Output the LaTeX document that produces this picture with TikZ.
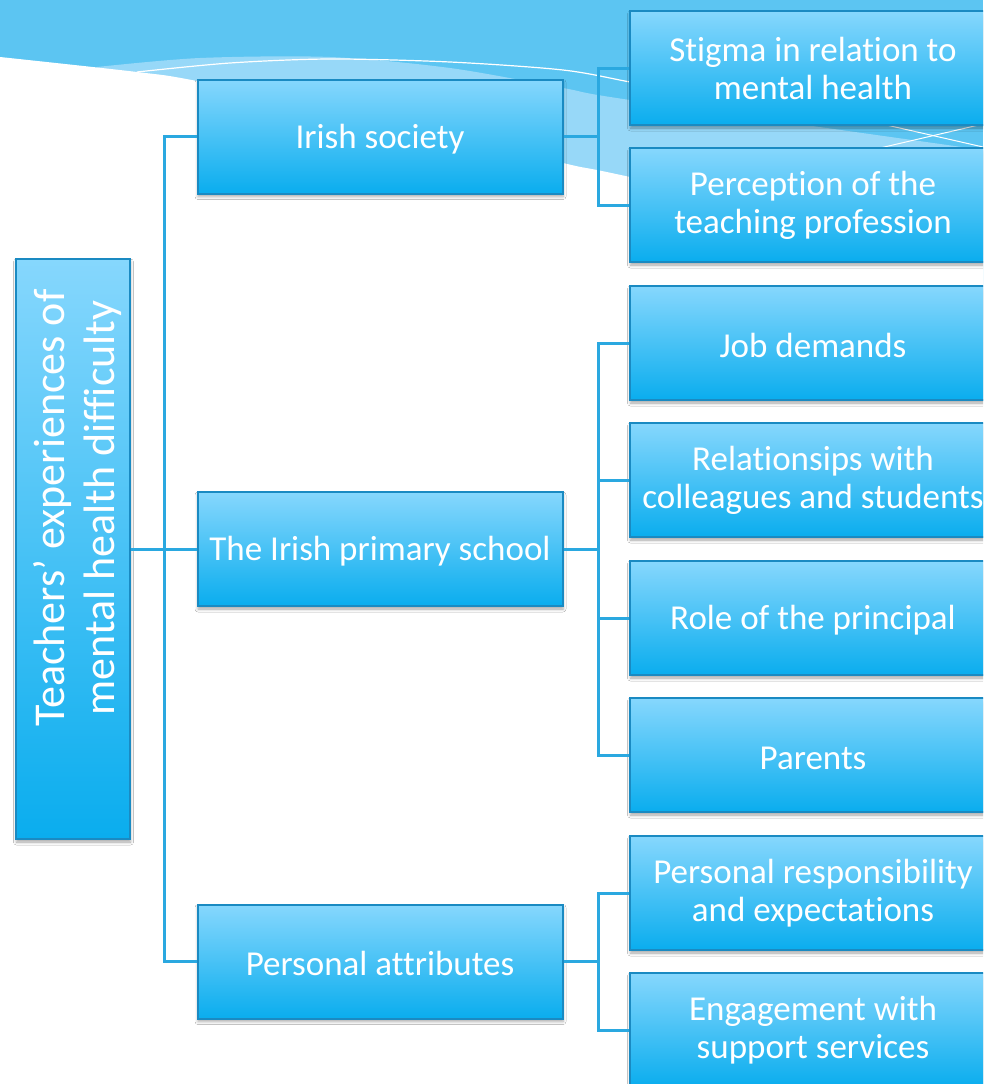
\documentclass[tikz,border=0pt]{standalone}
\usepackage{fontspec}
\setmainfont{Carlito}[RawFeature={-liga;-clig;-dlig;-calt}]
\usetikzlibrary{shadows.blur}

\definecolor{bandblue}{HTML}{5CC5F2}
\definecolor{paleblue}{HTML}{97D8F8}
\definecolor{boxtop}{HTML}{86D7FD}
\definecolor{boxbottom}{HTML}{0AADEE}
\definecolor{boxedge}{HTML}{1A8AC2}
\definecolor{linkblue}{HTML}{2AA8E0}

\tikzset{
  topic/.style={draw=boxedge, line width=2pt, top color=boxtop, bottom color=boxbottom,
    minimum width=366pt, minimum height=114pt, inner sep=0pt,
    text=white, align=center, font=\fontsize{35}{38}\selectfont,
    execute at begin node={\rule{0pt}{29pt}},
    blur shadow={shadow xshift=0.5pt, shadow yshift=-3pt, shadow opacity=35, shadow blur radius=3pt}},
  rootbox/.style={topic, minimum width=114pt, minimum height=580pt, execute at begin node={}},
  rootlabel/.style={rotate=90, text=white, align=center, inner sep=0pt,
    font=\fontsize{44}{50}\selectfont},
  link/.style={draw=linkblue, line width=3pt},
}

\begin{document}
\begin{tikzpicture}[x=1pt, y=-1pt]
  \useasboundingbox (0,0) rectangle (983,1084);
  \clip (0,0) rectangle (983,1084);

  % header wave
  \fill[bandblue] (0,0) rectangle (983,320);
  \fill[paleblue] plot[smooth] coordinates {(97,67) (200,58) (330,57) (450,68) (563,88) (630,100) (983,150)}
    -- (983,320) -- (97,320) -- cycle;
  \fill[white] plot[smooth] coordinates {(0,57) (137,72) (197,81) (400,122) (563,163) (630,177) (983,255)}
    -- (983,1084) -- (0,1084) -- cycle;
  \draw[white, line width=1.2pt] plot[smooth] coordinates {(137,72) (230,63) (330,59) (450,62) (563,70) (630,82) (700,95)};
  \draw[white, line width=1pt] (790,103) -- (983,147);
  \draw[white, line width=1pt] (790,169) -- (983,124);

  % root
  \node[rootbox] (root) at (73,549) {};
  \node[rootlabel] (roottext) at (78,508) {Teachers’ experiences of\\mental health difficulty};

  % first level
  \node[topic, minimum width=365pt] (soc) at (380,136.5) {Irish society};
  \node[topic, minimum width=365pt] (school) at (380,549) {The Irish primary school};
  \node[topic, minimum width=365pt] (pers) at (380,961.5) {Personal attributes};

  % second level
  \node[topic] (stigma) at (813,68) {Stigma in relation to\\mental health};
  \node[topic] (percep) at (813,205) {Perception of the\\teaching profession};
  \node[topic] (job) at (813,343) {Job demands};
  \node[topic] (rel) at (813,480) {Relationsips with\\colleagues and students};
  \node[topic] (princ) at (813,618) {Role of the principal};
  \node[topic] (parents) at (813,755) {Parents};
  \node[topic] (resp) at (813,893) {Personal responsibility\\and expectations};
  \node[topic] (engage) at (813,1030) {Engagement with\\support services};

  % connectors
  \foreach \c in {soc, school, pers}
    \draw[link] (root.east) -- ++(33,0) |- (\c.west);
  \foreach \c in {stigma, percep}
    \draw[link] (soc.east) -- ++(35,0) |- (\c.west);
  \foreach \c in {job, rel, princ, parents}
    \draw[link] (school.east) -- ++(35,0) |- (\c.west);
  \foreach \c in {resp, engage}
    \draw[link] (pers.east) -- ++(35,0) |- (\c.west);
\end{tikzpicture}
\end{document}
